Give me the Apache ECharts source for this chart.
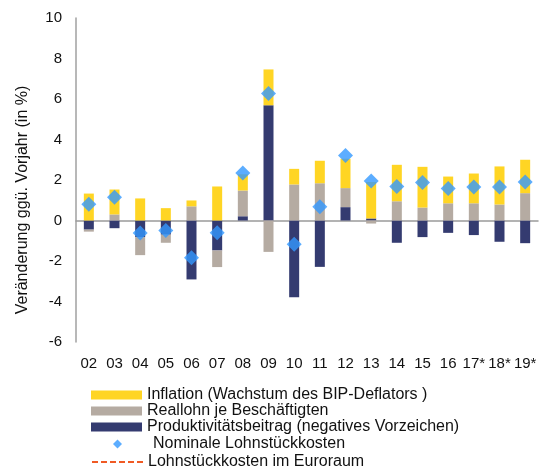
<!DOCTYPE html>
<html>
<head>
<meta charset="utf-8">
<script src="https://cdn.jsdelivr.net/npm/echarts@6/dist/echarts.min.js"></script>
<style>
  html, body { margin: 0; padding: 0; background: #fff; }
  #chart { width: 544px; height: 468px; }
</style>
</head>
<body>
<div id="chart"></div>
<script>
var years = ['02', '03', '04', '05', '06', '07', '08', '09', '10', '11', '12', '13', '14', '15', '16', '17*', '18*', '19*'];
var inflation = [1.33, 1.23, 1.09, 0.61, 0.29, 1.68, 0.8, 1.77, 0.77, 1.11, 1.45, 1.8, 1.8, 2.01, 1.32, 1.47, 1.88, 1.65];
var reallohn = [-0.1, 0.3, -0.89, -0.4, 0.7, -0.82, 1.27, -1.55, 1.78, 1.84, 0.94, -0.15, 0.95, 0.64, 0.85, 0.85, 0.79, 1.35];
var produktivitaet = [-0.45, -0.38, -0.82, -0.7, -2.91, -1.48, 0.21, 5.69, -3.79, -2.29, 0.66, 0.1, -1.1, -0.82, -0.61, -0.72, -1.05, -1.12];
var nominaleLsk = [0.8, 1.15, -0.62, -0.49, -1.84, -0.61, 2.35, 6.27, -1.17, 0.68, 3.21, 1.95, 1.68, 1.88, 1.58, 1.65, 1.65, 1.9];
var euroraumLsk = []; // nur in der Legende

var names = {
  infl: 'Inflation (Wachstum des BIP-Deflators )',
  real: 'Reallohn je Beschäftigten',
  prod: 'Produktivitätsbeitrag (negatives Vorzeichen)',
  nom: 'Nominale Lohnstückkosten',
  euro: 'Lohnstückkosten im Euroraum'
};

var chart = echarts.init(document.getElementById('chart'), null, { renderer: 'canvas' });
var font = 'Liberation Sans, Arial, sans-serif';
var legendText = { fontSize: 16, color: '#111', fontFamily: font };

var option = {
  animation: false,
  textStyle: { fontFamily: font },
  grid: { left: 76, top: 18, right: 6, bottom: 126 },
  legend: [{
    left: 86, top: 382, orient: 'vertical',
    itemWidth: 51, itemHeight: 9, itemGap: 0,
    icon: 'rect',
    textStyle: legendText,
    data: [names.infl, names.real, names.prod]
  }, {
    left: 108, top: 431, orient: 'vertical',
    itemWidth: 9, itemHeight: 9,
    textStyle: { fontSize: 16, color: '#111', fontFamily: font, padding: [0, 0, 0, 26] },
    data: [names.nom]
  }, {
    left: 86, top: 449, orient: 'vertical',
    itemWidth: 51, itemHeight: 9,
    itemStyle: { opacity: 0 },
    textStyle: legendText,
    data: [names.euro]
  }],
  xAxis: [{
    type: 'category',
    data: years,
    axisLine: { show: false, onZero: false },
    axisTick: { show: false },
    axisLabel: { color: '#111', fontSize: 15, margin: 14, interval: 0 }
  }, {
    type: 'category',
    data: years,
    position: 'bottom',
    axisLine: { onZero: true, lineStyle: { color: '#9a9a9a', width: 1.5 } },
    axisTick: { show: false },
    axisLabel: { show: false }
  }],
  yAxis: {
    type: 'value',
    min: -6, max: 10, interval: 2,
    name: 'Veränderung ggü. Vorjahr (in %)',
    nameLocation: 'middle',
    nameGap: 45,
    nameTextStyle: { fontSize: 16, color: '#111', padding: [0, 40, 0, 0] },
    axisLine: { show: true, lineStyle: { color: '#a0a0a0', width: 1.5 } },
    axisTick: { show: false },
    axisLabel: { color: '#111', fontSize: 15, margin: 14 },
    splitLine: { show: false }
  },
  series: [{
    name: names.prod, type: 'bar', stack: 'lsk', barWidth: 10,
    itemStyle: { color: '#343b70' },
    data: produktivitaet
  }, {
    name: names.real, type: 'bar', stack: 'lsk', barWidth: 10,
    itemStyle: { color: '#b5aba2' },
    data: reallohn
  }, {
    name: names.infl, type: 'bar', stack: 'lsk', barWidth: 10,
    itemStyle: { color: '#ffd524' },
    data: inflation
  }, {
    name: names.nom, type: 'scatter', symbol: 'diamond', symbolSize: [15, 15],
    itemStyle: { color: '#3399ff' },
    z: 5,
    data: nominaleLsk
  }, {
    name: names.euro, type: 'line', symbol: 'none', symbolSize: 0,
    lineStyle: { color: '#f05a24', type: [6, 3], width: 2 },
    itemStyle: { color: '#f05a24' },
    data: euroraumLsk
  }]
};

chart.setOption(option);
</script>
</body>
</html>
